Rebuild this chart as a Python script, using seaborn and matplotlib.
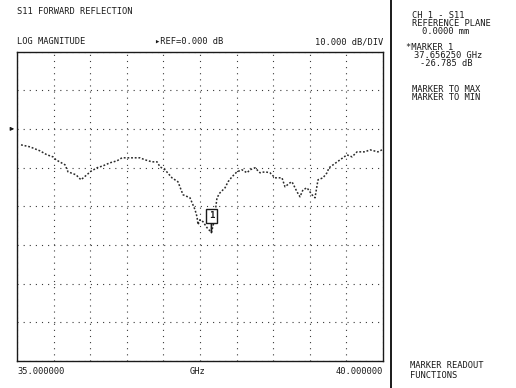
import numpy as np
import pandas as pd
import matplotlib
matplotlib.use("Agg")
import matplotlib.pyplot as plt
from matplotlib.lines import Line2D
import seaborn as sns

# ---------------- data ----------------
FREQ_START_GHZ = 35.0
FREQ_STOP_GHZ = 40.0
REF_DB = 0.0
DB_PER_DIV = 10.0
N_XDIV = 10
N_YDIV = 8
TOP_DB = 20.0

freq_ghz = [35.055, 35.178, 35.314, 35.410, 35.492, 35.533, 35.656, 35.697, 35.806, 35.874,
            35.970, 35.997, 36.093, 36.175, 36.270, 36.366, 36.434, 36.544, 36.680, 36.749,
            36.844, 36.913, 36.954, 37.022, 37.117, 37.199, 37.268, 37.363, 37.432, 37.459,
            37.473, 37.500, 37.541, 37.596, 37.656, 37.691, 37.732, 37.773, 37.842, 37.883,
            37.937, 38.005, 38.074, 38.142, 38.183, 38.251, 38.320, 38.388, 38.456, 38.525,
            38.620, 38.661, 38.730, 38.757, 38.825, 38.866, 38.907, 38.962, 39.030, 39.071,
            39.112, 39.180, 39.235, 39.262, 39.413, 39.508, 39.577, 39.645, 39.754, 39.822,
            39.932, 39.986]
s11_db = [-4.13, -4.65, -5.68, -6.71, -7.23, -8.00, -9.29, -11.10, -11.87, -13.16,
          -11.61, -11.10, -10.06, -9.55, -8.77, -8.26, -7.48, -7.48, -7.48, -8.00,
          -8.52, -8.52, -9.81, -10.58, -12.65, -13.68, -17.03, -17.81, -20.90, -22.71,
          -24.77, -23.48, -24.00, -25.55, -26.785, -24.00, -17.81, -16.52, -15.23, -13.68,
          -12.39, -11.10, -10.58, -11.35, -10.58, -10.06, -11.35, -11.10, -11.35, -12.65,
          -12.65, -14.97, -13.94, -13.68, -16.26, -17.55, -15.74, -15.23, -17.03, -17.81,
          -13.16, -12.65, -11.35, -10.06, -8.00, -6.71, -7.23, -5.94, -5.94, -5.42,
          -5.94, -5.42]

marker_ghz = 37.656250
marker_db = -26.785

title_text = "S11 FORWARD REFLECTION"
format_text = "LOG MAGNITUDE"
ref_text = "\u25b8REF=0.000 dB"
scale_text = "10.000 dB/DIV"
start_text = "35.000000"
unit_text = "GHz"
stop_text = "40.000000"
side_texts = [
    ("CH 1 - S11", 412, 16),
    ("REFERENCE PLANE", 412, 24),
    ("0.0000 mm", 422, 32),
    ("*MARKER 1", 406, 47),
    ("37.656250 GHz", 414, 55),
    ("-26.785 dB", 420, 63),
    ("MARKER TO MAX", 412, 90),
    ("MARKER TO MIN", 412, 98),
    ("MARKER READOUT", 410, 365),
    ("FUNCTIONS", 410, 375),
]

# ---------------- style ----------------
sns.set_theme(style="white")
plt.rcParams["font.family"] = ["DejaVu Sans Mono", "DejaVu Sans"]
INK = "#1a1a1a"
FS = 6.3

W, H = 516, 388
fig = plt.figure(figsize=(W / 100, H / 100), dpi=100)
fig.patch.set_facecolor("white")

L, R, T, B = 17, 383, 51.5, 361
ax = fig.add_axes([L / W, 1 - B / H, (R - L) / W, (B - T) / H])

df = pd.DataFrame({"freq": freq_ghz, "s11": s11_db})
sns.lineplot(data=df, x="freq", y="s11", ax=ax, color="#2a2a2a",
             linewidth=1.1, linestyle=(0, (1.2, 1.2)), sort=False)

ax.set_xlim(FREQ_START_GHZ, FREQ_STOP_GHZ)
ax.set_ylim(TOP_DB - N_YDIV * DB_PER_DIV, TOP_DB)
ax.set_xticks(np.linspace(FREQ_START_GHZ, FREQ_STOP_GHZ, N_XDIV + 1))
ax.set_yticks(np.arange(TOP_DB - N_YDIV * DB_PER_DIV, TOP_DB + 1, DB_PER_DIV))
ax.grid(True, linestyle=(0, (1, 4.5)), color="#3a3a3a", linewidth=0.8)
ax.tick_params(left=False, bottom=False, labelleft=False, labelbottom=False)
ax.set_xlabel("")
ax.set_ylabel("")
for s in ax.spines.values():
    s.set_visible(True)
    s.set_color(INK)
    s.set_linewidth(1.0)

# marker symbol at minimum
ax.annotate("1", xy=(marker_ghz, marker_db), xytext=(0, 12), textcoords="offset points",
            ha="center", va="center", fontsize=6.5, fontweight="bold", color=INK,
            bbox=dict(boxstyle="square,pad=0.3", fc="white", ec=INK, lw=1.0),
            arrowprops=dict(arrowstyle="-", color=INK, lw=1.2, shrinkA=0, shrinkB=0))

# reference position arrow
ax.annotate("", xy=(0, REF_DB), xycoords=ax.get_yaxis_transform(),
            xytext=(-6, 0), textcoords="offset points",
            arrowprops=dict(arrowstyle="-|>", color=INK, lw=0.8, mutation_scale=5))

def ftext(x, y, s, ha="left"):
    fig.text(x / W, 1 - y / H, s, ha=ha, va="center", fontsize=FS, color=INK)

ftext(17, 12, title_text)
ftext(17, 42, format_text)
ftext(155, 42, ref_text)
ftext(383, 42, scale_text, ha="right")
ftext(17, 372, start_text)
ftext(198, 372, unit_text, ha="center")
ftext(383, 372, stop_text, ha="right")
for s, x, y in side_texts:
    ftext(x, y, s)

# separator between graticule and softkey area
fig.add_artist(Line2D([391 / W, 391 / W], [0, 1], color=INK, lw=1.4))

fig.savefig("out.png", dpi=100, facecolor="white")
